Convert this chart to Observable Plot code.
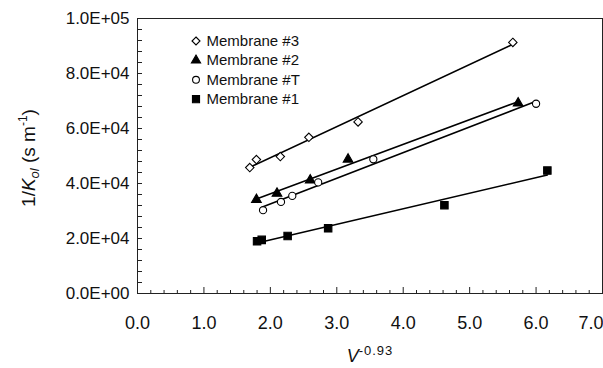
<!DOCTYPE html>
<html><head><meta charset="utf-8">
<script src="https://cdn.jsdelivr.net/npm/d3@7"></script>
<script src="https://cdn.jsdelivr.net/npm/@observablehq/plot@0.6"></script>
<style>
body{margin:0;background:#fff;}
#chart svg{display:block;}
</style>
</head><body><div id="chart"></div>
<script>
// ---- data ----
const seriesNames = ["Membrane #3", "Membrane #2", "Membrane #T", "Membrane #1"];
const m3X = [1.69, 1.79, 2.15, 2.58, 3.32, 5.65];
const m3Y = [45800, 48700, 49800, 56800, 62400, 91300];
const m2X = [1.79, 2.10, 2.60, 3.17, 5.73];
const m2Y = [34100, 36400, 41200, 48800, 69200];
const mTX = [1.89, 2.16, 2.33, 2.72, 3.55, 6.00];
const mTY = [30300, 33300, 35500, 40400, 48800, 69000];
const m1X = [1.80, 1.87, 2.26, 2.87, 4.62, 6.17];
const m1Y = [19000, 19500, 20900, 23700, 32100, 44700];
const xTickValues = [0, 1, 2, 3, 4, 5, 6, 7];
const xTickLabels = ["0.0", "1.0", "2.0", "3.0", "4.0", "5.0", "6.0", "7.0"];
const yTickValues = [0, 20000, 40000, 60000, 80000, 100000];
const yTickLabels = ["0.0E+00", "2.0E+04", "4.0E+04", "6.0E+04", "8.0E+04", "1.0E+05"];

// ---- build table ----
const seriesX = [m3X, m2X, mTX, m1X];
const seriesY = [m3Y, m2Y, mTY, m1Y];
const table = [];
seriesNames.forEach((name, s) => seriesX[s].forEach((x, i) => table.push({series: name, x, y: seriesY[s][i]})));

// ---- styles ----
const W = 603, H = 368, mL = 137, mR = 1, mT = 18, mB = 75;
const plotW = W - mL - mR, plotH = H - mT - mB;
const styles = {
  "Membrane #3": {symbol: "diamond2", fill: "white", r: 3.8},
  "Membrane #2": {symbol: "triangle", fill: "black", r: 3.6},
  "Membrane #T": {symbol: "circle", fill: "white", r: 3.6},
  "Membrane #1": {symbol: "square", fill: "black", r: 4.2}
};
const xMinor = d3.range(0, 7.0001, 0.2).map(v => +v.toFixed(1)).filter(v => !xTickValues.includes(v));
const yMinor = d3.range(0, 100001, 4000);

const marks = [
  Plot.frame({stroke: "#222", strokeWidth: 1}),
  Plot.tickX(xMinor, {x: d => d, insetTop: plotH - 3, stroke: "#222"}),
  Plot.tickX(xTickValues, {x: d => d, insetTop: plotH - 6, stroke: "#222"}),
  Plot.tickY(yMinor, {y: d => d, insetRight: plotW - 5, stroke: "#222"}),
  Plot.text(yTickValues, {y: d => d, text: (d, i) => yTickLabels[i], frameAnchor: "left", textAnchor: "end", lineAnchor: "middle", dx: -8, fontSize: 17, fill: "#111"}),
  Plot.text(xTickValues.slice(0, 7), {x: d => d, text: (d, i) => xTickLabels[i], frameAnchor: "bottom", lineAnchor: "middle", dy: 30, fontSize: 18, fill: "#111", letterSpacing: 1}),
  Plot.text(xTickValues.slice(7), {x: d => d, text: (d, i) => xTickLabels[7 + i], frameAnchor: "bottom", lineAnchor: "middle", dy: 30, textAnchor: "end", dx: 1, fontSize: 18, fill: "#111", letterSpacing: 1}),
  Plot.linearRegressionY(table, {x: "x", y: "y", z: "series", stroke: "black", strokeWidth: 1.6, ci: 0})
];
seriesNames.forEach((name, s) => {
  const st = styles[name];
  marks.push(Plot.dot(table.filter(d => d.series === name), {x: "x", y: "y", symbol: st.symbol, r: st.r, fill: st.fill, stroke: "black", strokeWidth: 1.1}));
  // legend entry
  marks.push(Plot.dot([name], {frameAnchor: "top-left", dx: 58.5, dy: 22.5 + s * 19.4, symbol: st.symbol, r: st.r * 0.95, fill: st.fill, stroke: "black", strokeWidth: 1.1}));
  marks.push(Plot.text([name], {text: d => d, frameAnchor: "top-left", lineAnchor: "middle", dx: 69, dy: 22.5 + s * 19.4, textAnchor: "start", fontSize: 15, fill: "#111"}));
});

const chart = Plot.plot({
  width: W, height: H,
  marginLeft: mL, marginRight: mR, marginTop: mT, marginBottom: mB,
  style: {fontFamily: "'Liberation Sans', Arial, sans-serif", background: "white", overflow: "visible"},
  x: {domain: [0, 7], axis: null},
  y: {domain: [0, 100000], axis: null},
  marks
});
document.getElementById("chart").appendChild(chart);

// ---- axis titles with italics, sub- and superscripts ----
const svg = d3.select(chart);
const fam = "'Liberation Sans', Arial, sans-serif";
const xt = svg.append("text").attr("x", 370).attr("y", 362).attr("text-anchor", "middle")
  .attr("font-family", fam).attr("font-size", 18).attr("fill", "#111");
xt.append("tspan").attr("font-style", "italic").text("V");
xt.append("tspan").attr("font-size", 13).attr("dy", -7).attr("letter-spacing", 1).text("-0.93");

const yt = svg.append("text").attr("transform", "translate(35,158) rotate(-90)").attr("text-anchor", "middle")
  .attr("font-family", fam).attr("font-size", 19).attr("fill", "#111");
yt.append("tspan").text("1/");
yt.append("tspan").attr("font-style", "italic").text("K");
yt.append("tspan").attr("font-style", "italic").attr("font-size", 13).attr("dy", 4).text("ol");
yt.append("tspan").attr("dy", -4).text(" (s m");
yt.append("tspan").attr("font-size", 12).attr("dy", -8).text("-1");
yt.append("tspan").attr("dy", 8).text(")");
</script>
</body></html>
